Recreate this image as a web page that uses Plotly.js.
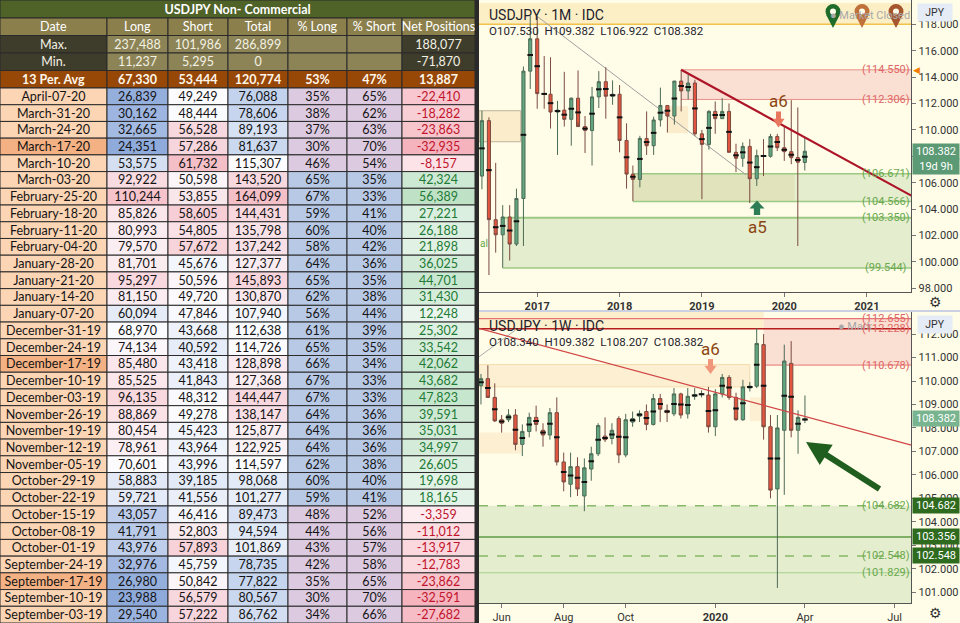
<!DOCTYPE html>
<html>
<head>
<meta charset="utf-8">
<script src="https://cdn.plot.ly/plotly-3.0.1.min.js"></script>
<style>
html, body { margin: 0; padding: 0; background: #fffde8; }
#chart { width: 960px; height: 623px; }
</style>
</head>
<body>
<div id="chart"></div>
<script>
var W = 960, H = 623;

// ---- COT table (non-commercial USDJPY) ----
var cotDates = ['April-07-20', 'March-31-20', 'March-24-20', 'March-17-20', 'March-10-20', 'March-03-20',
    'February-25-20', 'February-18-20', 'February-11-20', 'February-04-20', 'January-28-20', 'January-21-20',
    'January-14-20', 'January-07-20', 'December-31-19', 'December-24-19', 'December-17-19', 'December-10-19',
    'December-03-19', 'November-26-19', 'November-19-19', 'November-12-19', 'November-05-19', 'October-29-19',
    'October-22-19', 'October-15-19', 'October-08-19', 'October-01-19', 'September-24-19', 'September-17-19',
    'September-10-19', 'September-03-19'];
var cotLong = [26839, 30162, 32665, 24351, 53575, 92922, 110244, 85826, 80993, 79570, 81701, 95297, 81150, 60094,
    68970, 74134, 85480, 85525, 96135, 88869, 80454, 78961, 70601, 58883, 59721, 43057, 41791, 43976, 32976, 26980,
    23988, 29540];
var cotShort = [49249, 48444, 56528, 57286, 61732, 50598, 53855, 58605, 54805, 57672, 45676, 50596, 49720, 47846,
    43668, 40592, 43418, 41843, 48312, 49278, 45423, 43964, 43996, 39185, 41556, 46416, 52803, 57893, 45759, 50842,
    56579, 57222];
var cotTotal = [76088, 78606, 89193, 81637, 115307, 143520, 164099, 144431, 135798, 137242, 127377, 145893, 130870,
    107940, 112638, 114726, 128898, 127368, 144447, 138147, 125877, 122925, 114597, 98068, 101277, 89473, 94594,
    101869, 78735, 77822, 80567, 86762];
var cotPctLong = [35, 38, 37, 30, 46, 65, 67, 59, 60, 58, 64, 65, 62, 56, 61, 65, 66, 67, 67, 64, 64, 64, 62, 60, 59,
    48, 44, 43, 42, 35, 30, 34];
var cotPctShort = [65, 62, 63, 70, 54, 35, 33, 41, 40, 42, 36, 35, 38, 44, 39, 35, 34, 33, 33, 36, 36, 36, 38, 40, 41,
    52, 56, 57, 58, 65, 70, 66];
var cotNet = [-22410, -18282, -23863, -32935, -8157, 42324, 56389, 27221, 26188, 21898, 36025, 44701, 31430, 12248,
    25302, 33542, 42062, 43682, 47823, 39591, 35031, 34997, 26605, 19698, 18165, -3359, -11012, -13917, -12783,
    -23862, -32591, -27682];
var quarterRows = ['March-17-20', 'December-17-19', 'September-17-19'];
var tableTitle = 'USDJPY Non- Commercial';
var colHeaders = ['Date', 'Long', 'Short', 'Total', '% Long', '% Short', 'Net Positions'];
var maxVals = [237488, 101986, 286899, null, null, 188077];
var minVals = [11237, 5295, 0, null, null, -71870];
var avgVals = [67330, 53444, 120774, 53, 47, 13887];

// ---- USDJPY monthly candles ----
var mDate = ['2016-05-01', '2016-06-01', '2016-07-01', '2016-08-01', '2016-09-01', '2016-10-01', '2016-11-01', '2016-12-01',
    '2017-01-01', '2017-02-01', '2017-03-01', '2017-04-01', '2017-05-01', '2017-06-01', '2017-07-01', '2017-08-01',
    '2017-09-01', '2017-10-01', '2017-11-01', '2017-12-01', '2018-01-01', '2018-02-01', '2018-03-01', '2018-04-01',
    '2018-05-01', '2018-06-01', '2018-07-01', '2018-08-01', '2018-09-01', '2018-10-01', '2018-11-01', '2018-12-01',
    '2019-01-01', '2019-02-01', '2019-03-01', '2019-04-01', '2019-05-01', '2019-06-01', '2019-07-01', '2019-08-01',
    '2019-09-01', '2019-10-01', '2019-11-01', '2019-12-01', '2020-01-01', '2020-02-01', '2020-03-01', '2020-04-01'];
var mOpen = [106.5, 110.7, 103.2, 102.05, 103.4, 101.35, 104.8, 114.45, 116.9, 112.75, 112.7, 111.35, 111.5, 110.8,
    112.4, 110.25, 109.95, 112.5, 113.65, 112.55, 112.7, 109.2, 106.65, 106.25, 109.35, 108.8, 110.75, 111.85, 111.05,
    113.7, 112.95, 113.55, 109.7, 108.9, 111.4, 110.85, 111.4, 108.3, 107.85, 108.75, 106.3, 108.05, 108.0, 109.5,
    108.65, 108.35, 107.9, 107.53];
var mHigh = [111.45, 110.95, 107.5, 104.3, 104.3, 105.55, 114.8, 118.65, 118.6, 115.6, 115.5, 112.2, 114.4, 112.45,
    114.5, 111.05, 113.25, 114.45, 114.75, 113.75, 113.4, 110.5, 107.3, 109.55, 111.4, 111.0, 113.2, 111.85, 113.7,
    114.55, 114.2, 113.8, 110.0, 111.5, 112.15, 112.4, 112.0, 108.95, 109.05, 109.3, 108.5, 109.3, 109.7, 109.7,
    110.3, 112.25, 111.7, 109.382];
var mLow = [105.5, 99.0, 100.7, 99.55, 100.1, 101.2, 101.2, 113.1, 111.6, 111.6, 110.1, 108.1, 110.25, 108.8, 110.6,
    108.25, 107.3, 111.65, 110.85, 111.9, 108.3, 105.55, 104.6, 105.65, 108.1, 108.1, 110.25, 109.8, 110.4, 111.4,
    112.3, 109.55, 104.75, 108.5, 109.7, 110.85, 108.3, 106.8, 107.2, 104.45, 105.75, 106.5, 107.9, 108.4, 107.65,
    107.4, 101.2, 106.922];
var mClose = [110.7, 103.2, 102.05, 103.4, 101.35, 104.8, 114.45, 116.9, 112.75, 112.7, 111.35, 111.5, 110.8, 112.4,
    110.25, 109.95, 112.5, 113.65, 112.55, 112.7, 109.2, 106.65, 106.25, 109.35, 108.8, 110.75, 111.85, 111.05, 113.7,
    112.95, 113.55, 109.7, 108.9, 111.4, 110.85, 111.4, 108.3, 107.85, 108.75, 106.3, 108.05, 108.0, 109.5, 108.65,
    108.35, 107.9, 107.55, 108.382];

// ---- USDJPY weekly candles ----
var wDate = ['2019-05-13', '2019-05-20', '2019-05-27', '2019-06-03', '2019-06-10', '2019-06-17', '2019-06-24',
    '2019-07-01', '2019-07-08', '2019-07-15', '2019-07-22', '2019-07-29', '2019-08-05', '2019-08-12', '2019-08-19',
    '2019-08-26', '2019-09-02', '2019-09-09', '2019-09-16', '2019-09-23', '2019-09-30', '2019-10-07', '2019-10-14',
    '2019-10-21', '2019-10-28', '2019-11-04', '2019-11-11', '2019-11-18', '2019-11-25', '2019-12-02', '2019-12-09',
    '2019-12-16', '2019-12-23', '2019-12-30', '2020-01-06', '2020-01-13', '2020-01-20', '2020-01-27', '2020-02-03',
    '2020-02-10', '2020-02-17', '2020-02-24', '2020-03-02', '2020-03-09', '2020-03-16', '2020-03-23', '2020-03-30',
    '2020-04-06'];
var wOpen = [109.8, 110.1, 109.3, 108.35, 108.35, 108.55, 107.3, 107.85, 108.45, 107.9, 107.7, 108.65, 106.55, 105.6,
    106.35, 105.1, 106.25, 106.9, 107.65, 107.55, 108.4, 106.85, 108.25, 108.5, 108.7, 108.15, 109.25, 108.75, 108.6,
    109.45, 108.6, 109.35, 109.42, 109.4, 108.05, 109.45, 110.15, 109.3, 108.35, 109.7, 109.78, 111.55, 108.05, 105.4,
    107.9, 110.75, 107.9, 108.34];
var wHigh = [110.3, 110.67, 109.9, 108.55, 108.8, 108.8, 108.15, 108.65, 108.95, 108.2, 108.85, 109.3, 106.95, 106.95,
    106.75, 106.7, 107.2, 108.2, 108.45, 108.2, 108.5, 108.6, 108.7, 108.75, 109.0, 109.45, 109.45, 109.0, 109.7, 109.5,
    109.7, 109.7, 109.6, 109.75, 109.65, 110.3, 110.25, 109.5, 110.05, 109.95, 112.25, 112.0, 108.55, 108.55, 111.55,
    111.7, 108.75, 109.382];
var wLow = [109.0, 109.3, 108.25, 107.8, 108.25, 107.05, 106.8, 107.6, 107.85, 107.2, 107.5, 106.4, 105.3, 105.05,
    105.1, 104.45, 105.75, 106.8, 107.4, 107.3, 106.5, 106.75, 108.05, 108.25, 107.9, 108.1, 108.25, 108.25, 108.5,
    108.4, 108.4, 109.2, 109.3, 107.8, 107.65, 109.3, 109.2, 108.3, 108.3, 109.55, 109.7, 107.5, 105.0, 101.18, 105.15,
    107.6, 106.9, 108.207];
var wClose = [110.1, 109.3, 108.3, 108.2, 108.55, 107.3, 107.85, 108.45, 108.15, 107.7, 108.65, 106.55, 105.7, 106.35,
    105.4, 106.3, 106.9, 108.1, 107.5, 107.9, 106.85, 108.35, 108.4, 108.62, 108.15, 109.25, 108.8, 108.65, 109.45,
    108.55, 109.35, 109.42, 109.45, 108.05, 109.45, 110.15, 109.3, 108.35, 109.75, 109.78, 111.6, 108.05, 105.35, 108.0,
    110.85, 107.9, 108.45, 108.382];

// zone levels drawn on the charts
var mLevelsRed = [114.550, 112.306];
var mLevelsGreen = [106.671, 104.566, 103.350, 99.544];
var wLevelsRed = [112.655, 110.678];
var wLevelsGreen = [104.682, 103.356, 102.548, 101.829];
var lastPrice = 108.382;

function px(x) { return x / W; }
function py(y) { return 1 - y / H; }

function hexRgb(h) {
    return [parseInt(h.substr(1, 2), 16), parseInt(h.substr(3, 2), 16), parseInt(h.substr(5, 2), 16)];
}
function mix(a, b, t) {
    t = Math.max(0, Math.min(1, t));
    var ca = hexRgb(a), cb = hexRgb(b);
    return 'rgb(' + ca.map(function (v, i) { return Math.round(v + (cb[i] - v) * t); }).join(',') + ')';
}
function median(arr) {
    var s = arr.slice().sort(function (a, b) { return a - b; });
    var m = Math.floor(s.length / 2);
    return s.length % 2 ? s[m] : (s[m - 1] + s[m]) / 2;
}
function threeScale(vals, lo, hi) {
    var mn = Math.min.apply(null, vals), mx = Math.max.apply(null, vals), md = median(vals);
    return vals.map(function (v) {
        if (v <= md) { return mix(lo, '#fcfcff', (v - mn) / (md - mn)); }
        return mix('#fcfcff', hi, (v - md) / (mx - md));
    });
}
function fmt(n) { return n === null ? '' : n.toLocaleString('en-US'); }

// ---- table: cell texts, fills and font colours per column ----
var maxPos = Math.max.apply(null, cotNet), maxNeg = -Math.min.apply(null, cotNet);
var netFill = cotNet.map(function (v) {
    return v >= 0 ? mix('#f6fbf7', '#bfe2c7', v / maxPos) : mix('#fdf3f5', '#f5b3bd', -v / maxNeg);
});
var netFont = cotNet.map(function (v) { return v >= 0 ? '#1e7a35' : '#c0142c'; });
var pctFill = cotPctLong.map(function (v) { return v >= 50 ? '#b8c9e6' : '#dccae0'; });
var pct = function (v) { return v + '%'; };

var headFill = '#8b7f4c', darkFill = '#3e3d2c', khakiFill = '#8c8456', avgFill = '#974806';
var summaryFill = [darkFill, khakiFill, khakiFill, khakiFill, khakiFill, khakiFill, darkFill];

var texts = [[colHeaders[0], 'Max.', 'Min.', '<b>13 Per. Avg</b>'].concat(cotDates)];
var fills = [[headFill, summaryFill[0], summaryFill[0], avgFill].concat(cotDates.map(function (d) {
    return quarterRows.indexOf(d) >= 0 ? '#f4b183' : '#fcd5b4';
}))];
var dataCols = [cotLong, cotShort, cotTotal, cotPctLong, cotPctShort, cotNet];
var dataFills = [threeScale(cotLong, '#8eaadb', '#f7c4cc'), threeScale(cotShort, '#e3eaf7', '#f5bfc8'),
    threeScale(cotTotal, '#c3d3ed', '#f5bfc8'), pctFill, pctFill, netFill];
for (var c = 0; c < 6; c++) {
    var f = (c === 3 || c === 4) ? pct : fmt;
    texts.push([colHeaders[c + 1].replace(/ /g, '\u00a0'), fmt(maxVals[c]), fmt(minVals[c]),
        '<b>' + f(avgVals[c]) + '</b>'].concat(dataCols[c].map(f)));
    fills.push([headFill, summaryFill[c + 1], summaryFill[c + 1], avgFill].concat(dataFills[c]));
}
var fonts = [];
for (var k = 0; k < 7; k++) {
    var body = k === 6 ? netFont : cotDates.map(function () { return '#141414'; });
    fonts.push(['#ffffff', '#f3f1e4', '#f3f1e4', '#fff6ea'].concat(body));
}

// table geometry (pixels): column widths and row heights
var colWidths = [107, 61, 60, 60, 59, 55, 73];
var titleHeight = 18;
var rowHeights = [17.5, 17.5, 17.5, 17.5].concat(cotDates.map(function () { return 535 / cotDates.length; }));
var colLeft = [], rowMid = [], acc = 0;
colWidths.forEach(function (w) { colLeft.push(acc); acc += w; });
var tableWidth = acc;
acc = titleHeight;
rowHeights.forEach(function (h) { rowMid.push(acc + h / 2); acc += h; });

var tableTraces = [{
    type: 'bar', orientation: 'h', xaxis: 'x3', yaxis: 'y3', base: 0, x: [tableWidth], y: [titleHeight / 2],
    width: [titleHeight], marker: {color: '#4f6228', line: {color: '#2b2b2b', width: 1}},
    text: ['<b>' + tableTitle + '</b>'], textposition: 'inside', insidetextanchor: 'middle', textangle: 0,
    textfont: {family: 'Lato', size: 12.5, color: '#ffffff'}, hoverinfo: 'skip'
}];
for (var j = 0; j < 7; j++) {
    tableTraces.push({
        type: 'bar', orientation: 'h', xaxis: 'x3', yaxis: 'y3', base: colLeft[j],
        x: rowMid.map(function () { return colWidths[j]; }), y: rowMid, width: rowHeights,
        marker: {color: fills[j], line: {color: '#2b2b2b', width: 1}},
        text: texts[j], textposition: 'inside', insidetextanchor: 'middle', textangle: 0,
        textfont: {family: 'Lato', size: 12.5, color: fonts[j]}, hoverinfo: 'skip'
    });
}

// ---- candles ----
function candles(x, o, h, l, cl, xa, ya) {
    return {
        type: 'candlestick', x: x, open: o, high: h, low: l, close: cl, xaxis: xa, yaxis: ya,
        increasing: {fillcolor: '#62a67f', line: {color: '#4d6a57', width: 1}},
        decreasing: {fillcolor: '#e2563f', line: {color: '#7a4a40', width: 1}},
        whiskerwidth: 0, hoverinfo: 'skip', showlegend: false
    };
}
function mids(x, o, cl, xa, ya) {
    return {
        type: 'scatter', mode: 'markers', x: x, y: o.map(function (v, i) { return (v + cl[i]) / 2; }),
        xaxis: xa, yaxis: ya, hoverinfo: 'skip', showlegend: false,
        marker: {symbol: 'line-ew', size: 4, color: '#111', line: {width: 2, color: '#111'}}
    };
}

var M_L = '2016-04-18', M_R = '2021-07-17';
var W_L = '2019-05-11', W_R = '2020-07-23';

var shapes = [];
function rect(xr, yr, x0, x1, y0, y1, fill, lineColor) {
    shapes.push({type: 'rect', xref: xr, yref: yr, x0: x0, x1: x1, y0: y0, y1: y1, fillcolor: fill,
        line: {width: lineColor ? 1 : 0, color: lineColor || fill}, layer: 'below'});
}
function seg(xr, yr, x0, x1, y0, y1, color, width, dash, layer) {
    shapes.push({type: 'line', xref: xr, yref: yr, x0: x0, x1: x1, y0: y0, y1: y1,
        line: {color: color, width: width, dash: dash || 'solid'}, layer: layer || 'below'});
}
function blockArrow(cx, yTop, yBot, w, up, color) {
    var sw = w * 0.42, h = yBot - yTop, pts, s;
    if (up) {
        s = yTop + h * 0.55;
        pts = [[cx - sw / 2, yBot], [cx + sw / 2, yBot], [cx + sw / 2, s], [cx + w / 2, s], [cx, yTop], [cx - w / 2, s], [cx - sw / 2, s]];
    } else {
        s = yTop + h * 0.45;
        pts = [[cx - sw / 2, yTop], [cx + sw / 2, yTop], [cx + sw / 2, s], [cx + w / 2, s], [cx, yBot], [cx - w / 2, s], [cx - sw / 2, s]];
    }
    shapes.push({type: 'path', xref: 'paper', yref: 'paper', fillcolor: color, line: {width: 0}, layer: 'above',
        path: 'M ' + pts.map(function (p) { return px(p[0]) + ',' + py(p[1]); }).join(' L ') + ' Z'});
}
function pin(cx, cy, r, color) {
    shapes.push({type: 'path', xref: 'paper', yref: 'paper', fillcolor: color, line: {width: 0}, layer: 'above',
        path: 'M ' + px(cx - r * 0.9) + ',' + py(cy + r * 0.45) + ' L ' + px(cx + r * 0.9) + ',' + py(cy + r * 0.45) +
            ' L ' + px(cx) + ',' + py(cy + r * 2.2) + ' Z'});
    shapes.push({type: 'circle', xref: 'paper', yref: 'paper', x0: px(cx - r), x1: px(cx + r), y0: py(cy + r), y1: py(cy - r),
        fillcolor: color, line: {width: 0}, layer: 'above'});
    shapes.push({type: 'circle', xref: 'paper', yref: 'paper', x0: px(cx - r * 0.4), x1: px(cx + r * 0.4),
        y0: py(cy + r * 0.4), y1: py(cy - r * 0.4), fillcolor: '#fffde8', line: {width: 0}, layer: 'above'});
}

// monthly chart zones
rect('x', 'y', M_L, M_R, 118.0, 119.62, '#fcefc6');
seg('x', 'y', M_L, M_R, 118.0, 118.0, '#f2c24a', 1.5);
rect('x', 'y', '2018-10-01', M_R, mLevelsRed[1], mLevelsRed[0], '#fae0d2');
seg('x', 'y', '2018-10-01', M_R, mLevelsRed[0], mLevelsRed[0], '#e9908a', 1);
seg('x', 'y', '2018-10-01', M_R, mLevelsRed[1], mLevelsRed[1], '#e9908a', 1);
rect('x', 'y', '2016-08-01', M_R, mLevelsGreen[3], mLevelsGreen[2], '#e4edcd');
rect('x', 'y', '2018-03-01', M_R, mLevelsGreen[1], mLevelsGreen[0], '#e4edcd');
rect('x', 'y', '2018-03-01', '2020-02-15', mLevelsGreen[1], mLevelsGreen[0], 'rgba(214,200,140,0.28)');
seg('x', 'y', '2018-03-01', M_R, mLevelsGreen[0], mLevelsGreen[0], '#9cc983', 1.5);
seg('x', 'y', '2018-03-01', M_R, mLevelsGreen[1], mLevelsGreen[1], '#9cc983', 1.5);
seg('x', 'y', '2016-08-01', M_R, mLevelsGreen[2], mLevelsGreen[2], '#9cc983', 2);
seg('x', 'y', '2016-08-01', M_R, mLevelsGreen[3], mLevelsGreen[3], '#9cc983', 1.5);
rect('x', 'y', M_L, '2016-10-20', 109.1, 111.45, '#fbeccc', '#bdb49a');
rect('x', 'y', '2018-08-01', '2018-11-01', 109.75, 111.8, '#fbeccc');
seg('x', 'y', '2017-01-01', '2019-07-15', 118.6, 106.6, '#a0a0a0', 1);
seg('x', 'y', '2018-10-01', M_R, 114.55, 105.02, '#ad1427', 2.2, 'solid', 'above');

// weekly chart zones
rect('x2', 'y2', W_L, '2020-02-24', 112.228, 112.94, '#fcefcc');
rect('x2', 'y2', '2020-02-24', W_R, wLevelsRed[1], wLevelsRed[0], '#fae0d2');
seg('x2', 'y2', W_L, W_R, wLevelsRed[0], wLevelsRed[0], '#e57373', 1.2);
seg('x2', 'y2', W_L, W_R, 112.228, 112.228, '#b71c1c', 1.5);
seg('x2', 'y2', '2020-02-24', W_R, wLevelsRed[1], wLevelsRed[1], '#e57373', 1);
rect('x2', 'y2', W_L, '2020-02-10', 109.75, 110.7, '#fcefd2', '#f4dcae');
rect('x2', 'y2', W_L, '2019-06-24', 106.9, 107.8, '#fcefd2');
rect('x2', 'y2', '2020-02-10', '2020-02-24', 108.3, 109.3, '#fcefd2');
rect('x2', 'y2', W_L, W_R, 100.54, wLevelsGreen[0], '#e4edcd');
seg('x2', 'y2', W_L, W_R, wLevelsGreen[0], wLevelsGreen[0], '#86b968', 1.5, 'dash');
seg('x2', 'y2', W_L, W_R, wLevelsGreen[1], wLevelsGreen[1], '#5e9b43', 1.5);
seg('x2', 'y2', W_L, W_R, wLevelsGreen[2], wLevelsGreen[2], '#86b968', 1.5, 'dash');
seg('x2', 'y2', W_L, W_R, wLevelsGreen[3], wLevelsGreen[3], '#a5cf8e', 1);
seg('x2', 'y2', W_L, '2019-06-17', 111.03, 112.17, '#aaaaaa', 1);
seg('x2', 'y2', W_L, W_R, 112.24, 107.27, '#d04545', 1.2, 'solid', 'above');

// paper-level decoration
shapes.push({type: 'rect', xref: 'paper', yref: 'paper', x0: px(475), x1: px(479), y0: 0, y1: 1,
    fillcolor: '#2a2a2a', line: {width: 0}});
shapes.push({type: 'line', xref: 'paper', yref: 'paper', x0: px(479), x1: 1, y0: py(311), y1: py(311),
    line: {color: '#c9d1e3', width: 2}});
blockArrow(778.5, 111.5, 127.5, 12, false, '#e8775e');
blockArrow(757, 200.5, 215, 15, true, '#2f7d55');
blockArrow(710.5, 359, 374, 12, false, '#f0967a');
pin(833, 11.5, 7.5, '#1f6b2a');
pin(862, 11.5, 7.5, '#c0703a');
pin(896, 11.5, 7.5, '#a5562e');

// ---- annotations ----
var notes = [];
function note(x, y, text, size, color, extra) {
    var a = {xref: 'paper', yref: 'paper', x: px(x), y: py(y), text: text, showarrow: false,
        font: {family: 'Roboto', size: size, color: color}, xanchor: 'center', yanchor: 'middle'};
    for (var key in extra || {}) { a[key] = extra[key]; }
    notes.push(a);
}
function levelLabel(yref, price, color) {
    notes.push({xref: 'paper', yref: yref, x: px(886), y: price, text: '(' + price.toFixed(3) + ')', showarrow: false,
        font: {family: 'Roboto', size: 11, color: color}, xanchor: 'center', yanchor: 'middle'});
}
function axisBox(yref, price, text, bg) {
    notes.push({xref: 'paper', yref: yref, x: px(935.5), y: price, text: text, showarrow: false, width: 44, height: 13,
        bgcolor: bg, borderpad: 1, font: {family: 'Roboto', size: 11, color: '#ffffff'}, xanchor: 'center', yanchor: 'middle'});
}

note(487, 15, 'USDJPY · 1M · IDC', 14, '#1e222d', {xanchor: 'left'});
note(487, 31, 'O107.530  H109.382  L106.922  C108.382', 11.5, '#1e222d', {xanchor: 'left'});
note(870, 15, '● Market Closed', 11, '#a8a8a8');
note(778, 101, 'a6', 17, '#8b4513');
note(757, 227, 'a5', 17, '#8b4513');
note(484, 244, 'al', 10, '#6aa84f');
note(916, 70, '◀', 9, '#f57c00', {font: {family: 'DejaVu Sans', size: 9, color: '#f57c00'}});
note(934.5, 13, 'JPY', 10.5, '#333333', {bgcolor: '#e6ecf6', width: 30, borderpad: 2});
note(935, 302, '⚙', 14, '#333333', {font: {family: 'DejaVu Sans', size: 14, color: '#333333'}});
mLevelsRed.forEach(function (v) { levelLabel('y', v, '#e06666'); });
mLevelsGreen.forEach(function (v) { levelLabel('y', v, '#6aa84f'); });
axisBox('y', lastPrice, lastPrice.toFixed(3), '#5b9a74');
note(935.5, 166, '19d 9h', 11, '#ffffff', {bgcolor: '#5b9a74', width: 44, height: 13, borderpad: 1});

note(487, 326, 'USDJPY · 1W · IDC', 14, '#1e222d', {xanchor: 'left'});
note(487, 342, 'O108.340  H109.382  L108.207  C108.382', 11.5, '#1e222d', {xanchor: 'left'});
note(710, 349, 'a6', 17, '#8b4513');
note(855, 326, '● Mark', 11, '#a8a8a8');
note(934.5, 324, 'JPY', 10.5, '#333333', {bgcolor: '#e6ecf6', width: 30, borderpad: 2});
note(935, 613, '⚙', 14, '#333333', {font: {family: 'DejaVu Sans', size: 14, color: '#333333'}});
levelLabel('y2', wLevelsRed[0], '#e06666');
levelLabel('y2', 112.228, '#e06666');
levelLabel('y2', wLevelsRed[1], '#e06666');
levelLabel('y2', wLevelsGreen[0], '#6aa84f');
levelLabel('y2', wLevelsGreen[2], '#6aa84f');
levelLabel('y2', wLevelsGreen[3], '#6aa84f');
axisBox('y2', lastPrice, lastPrice.toFixed(3), '#78b48f');
axisBox('y2', wLevelsGreen[0], wLevelsGreen[0].toFixed(3), '#2e6b1f');
axisBox('y2', wLevelsGreen[1], wLevelsGreen[1].toFixed(3), '#2e6b1f');
axisBox('y2', wLevelsGreen[2], wLevelsGreen[2].toFixed(3), '#2e6b1f');
notes.push({xref: 'paper', yref: 'paper', x: px(806), y: py(442), ax: 75, ay: 48, text: '', showarrow: true,
    arrowhead: 2, arrowsize: 0.8, arrowwidth: 6, arrowcolor: '#1f5e1f'});

var axisFont = {family: 'Roboto', size: 11, color: '#333333'};
var layout = {
    width: W, height: H,
    margin: {l: 0, r: 0, t: 0, b: 0},
    paper_bgcolor: '#fffde8', plot_bgcolor: '#fffde8',
    showlegend: false,
    barmode: 'overlay',
    uniformtext: {mode: 'show', minsize: 12.5},
    font: {family: 'Roboto'},
    xaxis: {
        domain: [479 / W, 911.3 / W], anchor: 'y', type: 'date', range: [M_L, M_R],
        tickvals: ['2017-01-01', '2018-01-01', '2019-01-01', '2020-01-01', '2021-01-01'],
        ticktext: ['<b>2017</b>', '<b>2018</b>', '<b>2019</b>', '<b>2020</b>', '<b>2021</b>'],
        showgrid: false, zeroline: false, showline: true, linecolor: '#555555', ticks: 'outside', ticklen: 4,
        tickcolor: '#777777', tickfont: axisFont, rangeslider: {visible: false}, fixedrange: true
    },
    yaxis: {
        domain: [1 - 291.7 / H, 1], anchor: 'x', side: 'right', range: [97.74, 119.84], dtick: 2, tick0: 0,
        tickformat: '.3f', showgrid: false, zeroline: false, showline: true, linecolor: '#555555',
        ticks: 'outside', ticklen: 4, tickcolor: '#777777', tickfont: axisFont, fixedrange: true
    },
    xaxis2: {
        domain: [479 / W, 911.3 / W], anchor: 'y2', type: 'date', range: [W_L, W_R],
        tickvals: ['2019-06-03', '2019-08-05', '2019-10-07', '2020-01-06', '2020-04-06', '2020-07-06'],
        ticktext: ['Jun', 'Aug', 'Oct', '<b>2020</b>', 'Apr', 'Jul'],
        showgrid: false, zeroline: false, showline: true, linecolor: '#555555', ticks: 'outside', ticklen: 4,
        tickcolor: '#777777', tickfont: axisFont, rangeslider: {visible: false}, fixedrange: true
    },
    yaxis2: {
        domain: [1 - 603 / H, 1 - 312 / H], anchor: 'x2', side: 'right', range: [100.54, 112.94], dtick: 1, tick0: 0,
        tickformat: '.3f', showgrid: false, zeroline: false, showline: true, linecolor: '#555555',
        ticks: 'outside', ticklen: 4, tickcolor: '#777777', tickfont: axisFont, fixedrange: true
    },
    xaxis3: {domain: [0, 475 / W], anchor: 'y3', range: [0, tableWidth], visible: false, fixedrange: true},
    yaxis3: {domain: [0, 1], anchor: 'x3', range: [H, 0], visible: false, fixedrange: true},
    shapes: shapes,
    annotations: notes
};

var data = tableTraces.concat([
    candles(mDate, mOpen, mHigh, mLow, mClose, 'x', 'y'),
    mids(mDate, mOpen, mClose, 'x', 'y'),
    candles(wDate, wOpen, wHigh, wLow, wClose, 'x2', 'y2'),
    mids(wDate, wOpen, wClose, 'x2', 'y2')
]);

Plotly.newPlot('chart', data, layout, {staticPlot: true, displayModeBar: false});
</script>
</body>
</html>
